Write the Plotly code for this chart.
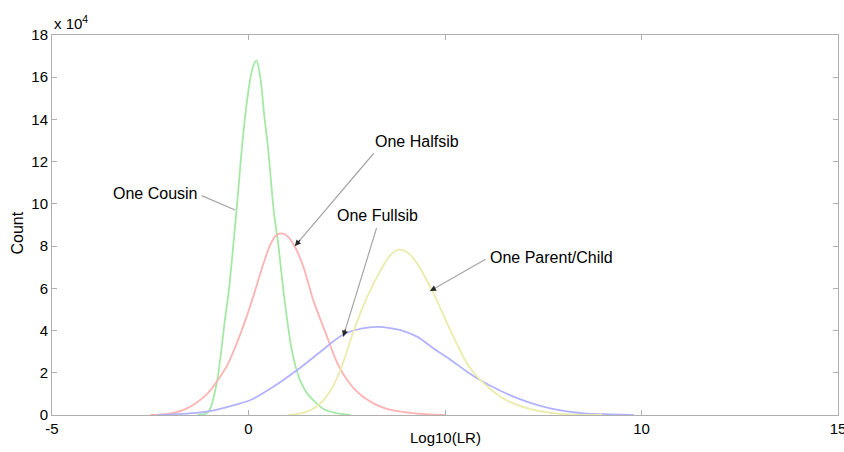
import plotly.graph_objects as go

# ---- data (counts in units of 1e4) ----
cousin_x = [-1.3, -1.1, -1.0, -0.8, -0.6, -0.5, -0.3, -0.15, 0.0, 0.1, 0.2, 0.3, 0.4, 0.5,
            0.64, 0.75, 0.92, 1.1, 1.3, 1.5, 1.65, 1.9, 2.2, 2.6]
cousin_y = [0.0, 0.05, 0.2, 1.6, 4.5, 5.9, 9.8, 13.0, 15.4, 16.4, 16.8, 16.0, 14.2, 12.6,
            9.7, 8.2, 5.4, 3.1, 1.7, 1.0, 0.7, 0.3, 0.1, 0.0]

halfsib_x = [-2.5, -2.2, -1.9, -1.65, -1.35, -1.05, -0.8, -0.53, -0.2, 0.09, 0.35, 0.55, 0.7,
             0.85, 1.0, 1.2, 1.4, 1.65, 1.96, 2.3, 2.72, 3.18, 3.5, 3.87, 4.5, 5.0]
halfsib_y = [0.0, 0.03, 0.1, 0.24, 0.55, 1.0, 1.6, 2.4, 3.87, 5.43, 7.0, 8.05, 8.5,
             8.6, 8.45, 7.9, 7.0, 5.43, 3.9, 2.3, 1.18, 0.55, 0.3, 0.16, 0.04, 0.0]

fullsib_x = [-2.3, -1.5, -1.05, -0.5, 0.05, 0.6, 1.24, 1.8, 2.4, 2.9, 3.27, 3.6, 3.87, 4.3,
             4.71, 5.14, 5.56, 5.9, 6.41, 6.84, 7.3, 7.68, 8.1, 8.53, 9.2, 9.8]
fullsib_y = [0.0, 0.08, 0.16, 0.4, 0.71, 1.3, 2.13, 2.95, 3.8, 4.1, 4.17, 4.12, 4.02, 3.7,
             3.15, 2.62, 2.05, 1.65, 1.15, 0.8, 0.5, 0.31, 0.17, 0.08, 0.03, 0.0]

parent_x = [1.0, 1.32, 1.6, 1.83, 2.1, 2.34, 2.68, 3.02, 3.36, 3.6, 3.83, 4.05, 4.29, 4.71,
            5.14, 5.56, 5.9, 6.41, 6.8, 7.25, 7.8, 8.5, 9.0]
parent_y = [0.0, 0.08, 0.25, 0.55, 1.2, 2.13, 4.0, 5.59, 6.85, 7.55, 7.83, 7.7, 7.17, 5.75,
            4.0, 2.44, 1.65, 0.87, 0.5, 0.24, 0.08, 0.01, 0.0]

x_ticks = [-5, 0, 5, 10, 15]
x_tick_labels = ["-5", "0", "", "10", "15"]   # the "5" label is hidden behind the axis title
y_ticks = [0, 2, 4, 6, 8, 10, 12, 14, 16, 18]

FONT = "Arial, Liberation Sans, sans-serif"

fig = go.Figure()
series = [
    ("One Cousin", cousin_x, cousin_y, "rgb(165,232,165)"),
    ("One Halfsib", halfsib_x, halfsib_y, "rgb(255,178,178)"),
    ("One Fullsib", fullsib_x, fullsib_y, "rgb(178,178,255)"),
    ("One Parent/Child", parent_x, parent_y, "rgb(235,235,172)"),
]
for name, xs, ys, col in series:
    fig.add_trace(go.Scatter(x=xs, y=ys, mode="lines", name=name,
                             line=dict(color=col, width=1.8, shape="spline", smoothing=0.8),
                             showlegend=False))

# annotations: (text, text_x, text_y, tail_x, tail_y, head_x, head_y)
labels = [
    ("One Cousin", -2.37, 10.5, -1.23, 10.42, -0.34, 9.71),
    ("One Halfsib", 4.3, 12.94, 3.22, 12.47, 1.18, 8.0),
    ("One Fullsib", 3.28, 9.45, 3.27, 8.92, 2.41, 3.71),
    ("One Parent/Child", 7.7, 7.46, 6.07, 7.42, 4.62, 5.87),
]
annotations = []
for text, tx, ty, ax_, ay_, hx, hy in labels:
    annotations.append(dict(x=tx, y=ty, xref="x", yref="y", text=text, showarrow=False,
                            font=dict(family=FONT, size=16, color="black")))
    annotations.append(dict(x=hx, y=hy, xref="x", yref="y", ax=ax_, ay=ay_,
                            axref="x", ayref="y", text="", showarrow=True,
                            arrowhead=0, arrowwidth=1.2, arrowcolor="rgb(165,165,165)"))
    # dark arrow head
    fx = hx + (ax_ - hx) * 0.08
    fy = hy + (ay_ - hy) * 0.08
    annotations.append(dict(x=hx, y=hy, xref="x", yref="y", ax=fx, ay=fy,
                            axref="x", ayref="y", text="", showarrow=True,
                            arrowhead=2, arrowsize=1.0, arrowwidth=1.2,
                            arrowcolor="rgb(40,40,40)"))

annotations.append(dict(x=0, y=1, xref="paper", yref="paper", xanchor="left",
                        yanchor="bottom", yshift=1, text="x 10<sup>4</sup>", showarrow=False,
                        font=dict(family=FONT, size=15, color="black")))
# axis titles
annotations.append(dict(x=0.5, y=-0.0605, xref="paper", yref="paper", xanchor="center",
                        yanchor="middle", text="Log10(LR)", showarrow=False,
                        font=dict(family=FONT, size=15, color="black")))
annotations.append(dict(x=-0.0433, y=0.48, xref="paper", yref="paper", xanchor="center",
                        yanchor="middle", text="Count", textangle=-90, showarrow=False,
                        font=dict(family=FONT, size=16, color="black")))

axis_common = dict(showgrid=False, zeroline=False, showline=True, linecolor="rgb(175,175,175)",
                   linewidth=1, mirror="ticks", ticks="inside", ticklen=5, automargin=False,
                   ticklabeloverflow="allow",
                   tickcolor="rgb(175,175,175)", tickfont=dict(family=FONT, size=15, color="black"))

fig.update_layout(
    width=844, height=452,
    margin=dict(l=52, r=6, t=35, b=37),
    paper_bgcolor="white", plot_bgcolor="white",
    annotations=annotations,
    xaxis=dict(range=[-5, 15], tickvals=x_ticks, ticktext=x_tick_labels, **axis_common),
    yaxis=dict(range=[0, 18], tickvals=y_ticks, ticktext=[str(v) for v in y_ticks],
               **axis_common),
)

fig.write_html("out.html", config={"displayModeBar": False},
               post_script="document.body.style.margin='0';document.body.style.overflow='hidden';")
